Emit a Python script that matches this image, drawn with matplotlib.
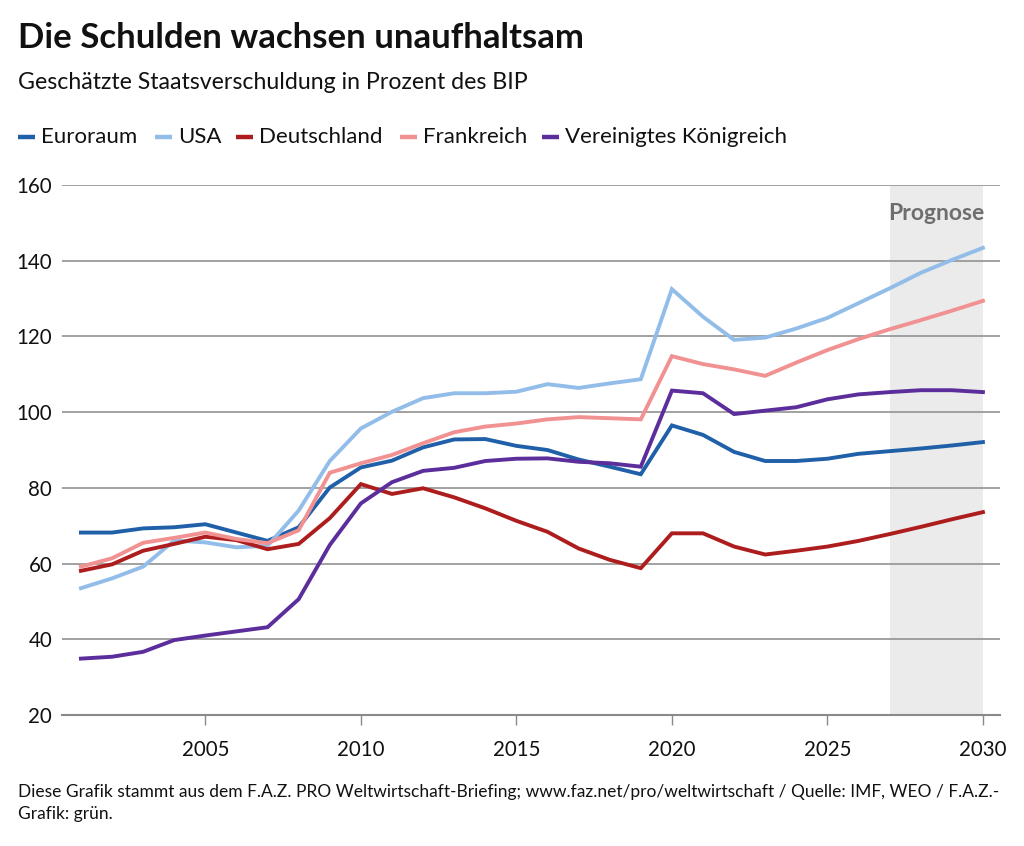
import matplotlib.pyplot as plt
from matplotlib.lines import Line2D

plt.rcParams['font.family'] = ['Lato', 'DejaVu Sans']

years = list(range(2001, 2031))

euroraum = [68.2, 68.2, 69.3, 69.6, 70.4, 68.2, 66.0, 69.6, 80.1, 85.4,
            87.2, 90.7, 92.8, 92.9, 91.1, 90.0, 87.5, 85.6, 83.6, 96.5,
            94.0, 89.5, 87.1, 87.1, 87.7, 89.0, 89.7, 90.4, 91.2, 92.1]
usa = [53.5, 56.1, 59.2, 66.1, 65.6, 64.3, 64.7, 74.0, 87.1, 95.7,
       100.1, 103.7, 105.0, 105.0, 105.4, 107.4, 106.4, 107.6, 108.7, 132.5,
       125.2, 119.1, 119.7, 122.1, 124.9, 128.8, 132.7, 136.8, 140.2, 143.4]
deutschland = [58.1, 59.8, 63.4, 65.2, 67.1, 66.2, 63.8, 65.2, 72.0, 81.0,
               78.4, 79.9, 77.5, 74.6, 71.3, 68.4, 64.0, 61.0, 58.8, 68.0,
               68.0, 64.5, 62.4, 63.4, 64.5, 66.0, 67.8, 69.7, 71.7, 73.6]
frankreich = [59.2, 61.4, 65.5, 66.8, 68.2, 66.5, 65.4, 68.8, 84.0, 86.5,
              88.7, 91.8, 94.7, 96.2, 97.0, 98.1, 98.7, 98.4, 98.1, 114.8,
              112.7, 111.3, 109.6, 113.1, 116.4, 119.3, 121.9, 124.3, 126.8, 129.4]
vereinigtes_koenigreich = [34.9, 35.4, 36.7, 39.8, 41.0, 42.1, 43.2, 50.6, 64.9, 75.9,
                           81.5, 84.5, 85.3, 87.1, 87.7, 87.8, 86.9, 86.5, 85.6, 105.7,
                           105.0, 99.5, 100.4, 101.3, 103.4, 104.7, 105.3, 105.8, 105.8, 105.3]

series = [
    ('Euroraum', euroraum, '#2060a8'),
    ('USA', usa, '#93bde9'),
    ('Deutschland', deutschland, '#ad1d1d'),
    ('Frankreich', frankreich, '#f19191'),
    ('Vereinigtes Königreich', vereinigtes_koenigreich, '#5c2e9c'),
]

prognose_start, prognose_end = 2027, 2030
x_ticks = [2005, 2010, 2015, 2020, 2025, 2030]
y_ticks = [20, 40, 60, 80, 100, 120, 140, 160]

W, H = 1024, 846
fig = plt.figure(figsize=(10.24, 8.46), dpi=100)
ax = fig.add_axes([0.0605, 0.1548, 0.9161, 0.6265])

ax.axvspan(prognose_start, prognose_end, color='#ebebeb', zorder=0, lw=0)
ax.text((prognose_start + prognose_end) / 2, 152.6, 'Prognose', ha='center', va='center',
        fontsize=16.5, fontweight='bold', color='#6e6e6e')

for name, vals, col in series:
    ax.plot(years, vals, color=col, linewidth=2.8, label=name, zorder=3,
            solid_joinstyle='miter')

ax.set_xlim(2000.39, 2030.55)
ax.set_ylim(20, 160)
ax.set_yticks(y_ticks)
ax.set_xticks(x_ticks)
ax.grid(axis='y', color='#9a9a9a', linewidth=1.3, zorder=1)
ax.set_axisbelow(True)
for s in ['left', 'right', 'top']:
    ax.spines[s].set_visible(False)
ax.spines['bottom'].set_color('#8a8a8a')
ax.spines['bottom'].set_linewidth(1.5)
ax.tick_params(axis='y', length=0, pad=7, labelsize=14.8, labelcolor='#111111')
ax.tick_params(axis='x', length=7, width=1, color='#8a8a8a', pad=11,
               labelsize=14.8, labelcolor='#111111')

fig.text(0.0176, 0.955, 'Die Schulden wachsen unaufhaltsam', fontsize=25,
         fontweight='bold', color='#111111', va='center')
fig.text(0.0176, 0.902, 'Geschätzte Staatsverschuldung in Prozent des BIP', fontsize=16.7,
         color='#111111', va='center')

# legend, drawn by hand at the reference's positions
legend_x = [18, 155, 236, 400, 542]
legend_y = 1 - 137 / H
for (name, vals, col), lx in zip(series, legend_x):
    fig.add_artist(Line2D([lx / W, (lx + 17) / W], [legend_y, legend_y], color=col,
                          linewidth=3.2, solid_capstyle='butt'))
    fig.text((lx + 23) / W, legend_y, name, fontsize=16, color='#111111',
             va='center', ha='left')

fig.text(0.0176, 0.0508, 'Diese Grafik stammt aus dem F.A.Z. PRO Weltwirtschaft-Briefing; '
         'www.faz.net/pro/weltwirtschaft / Quelle: IMF, WEO / F.A.Z.-\nGrafik: grün.',
         fontsize=12.5, color='#111111', va='center', linespacing=1.45)

fig.savefig('out.png', dpi=100)
